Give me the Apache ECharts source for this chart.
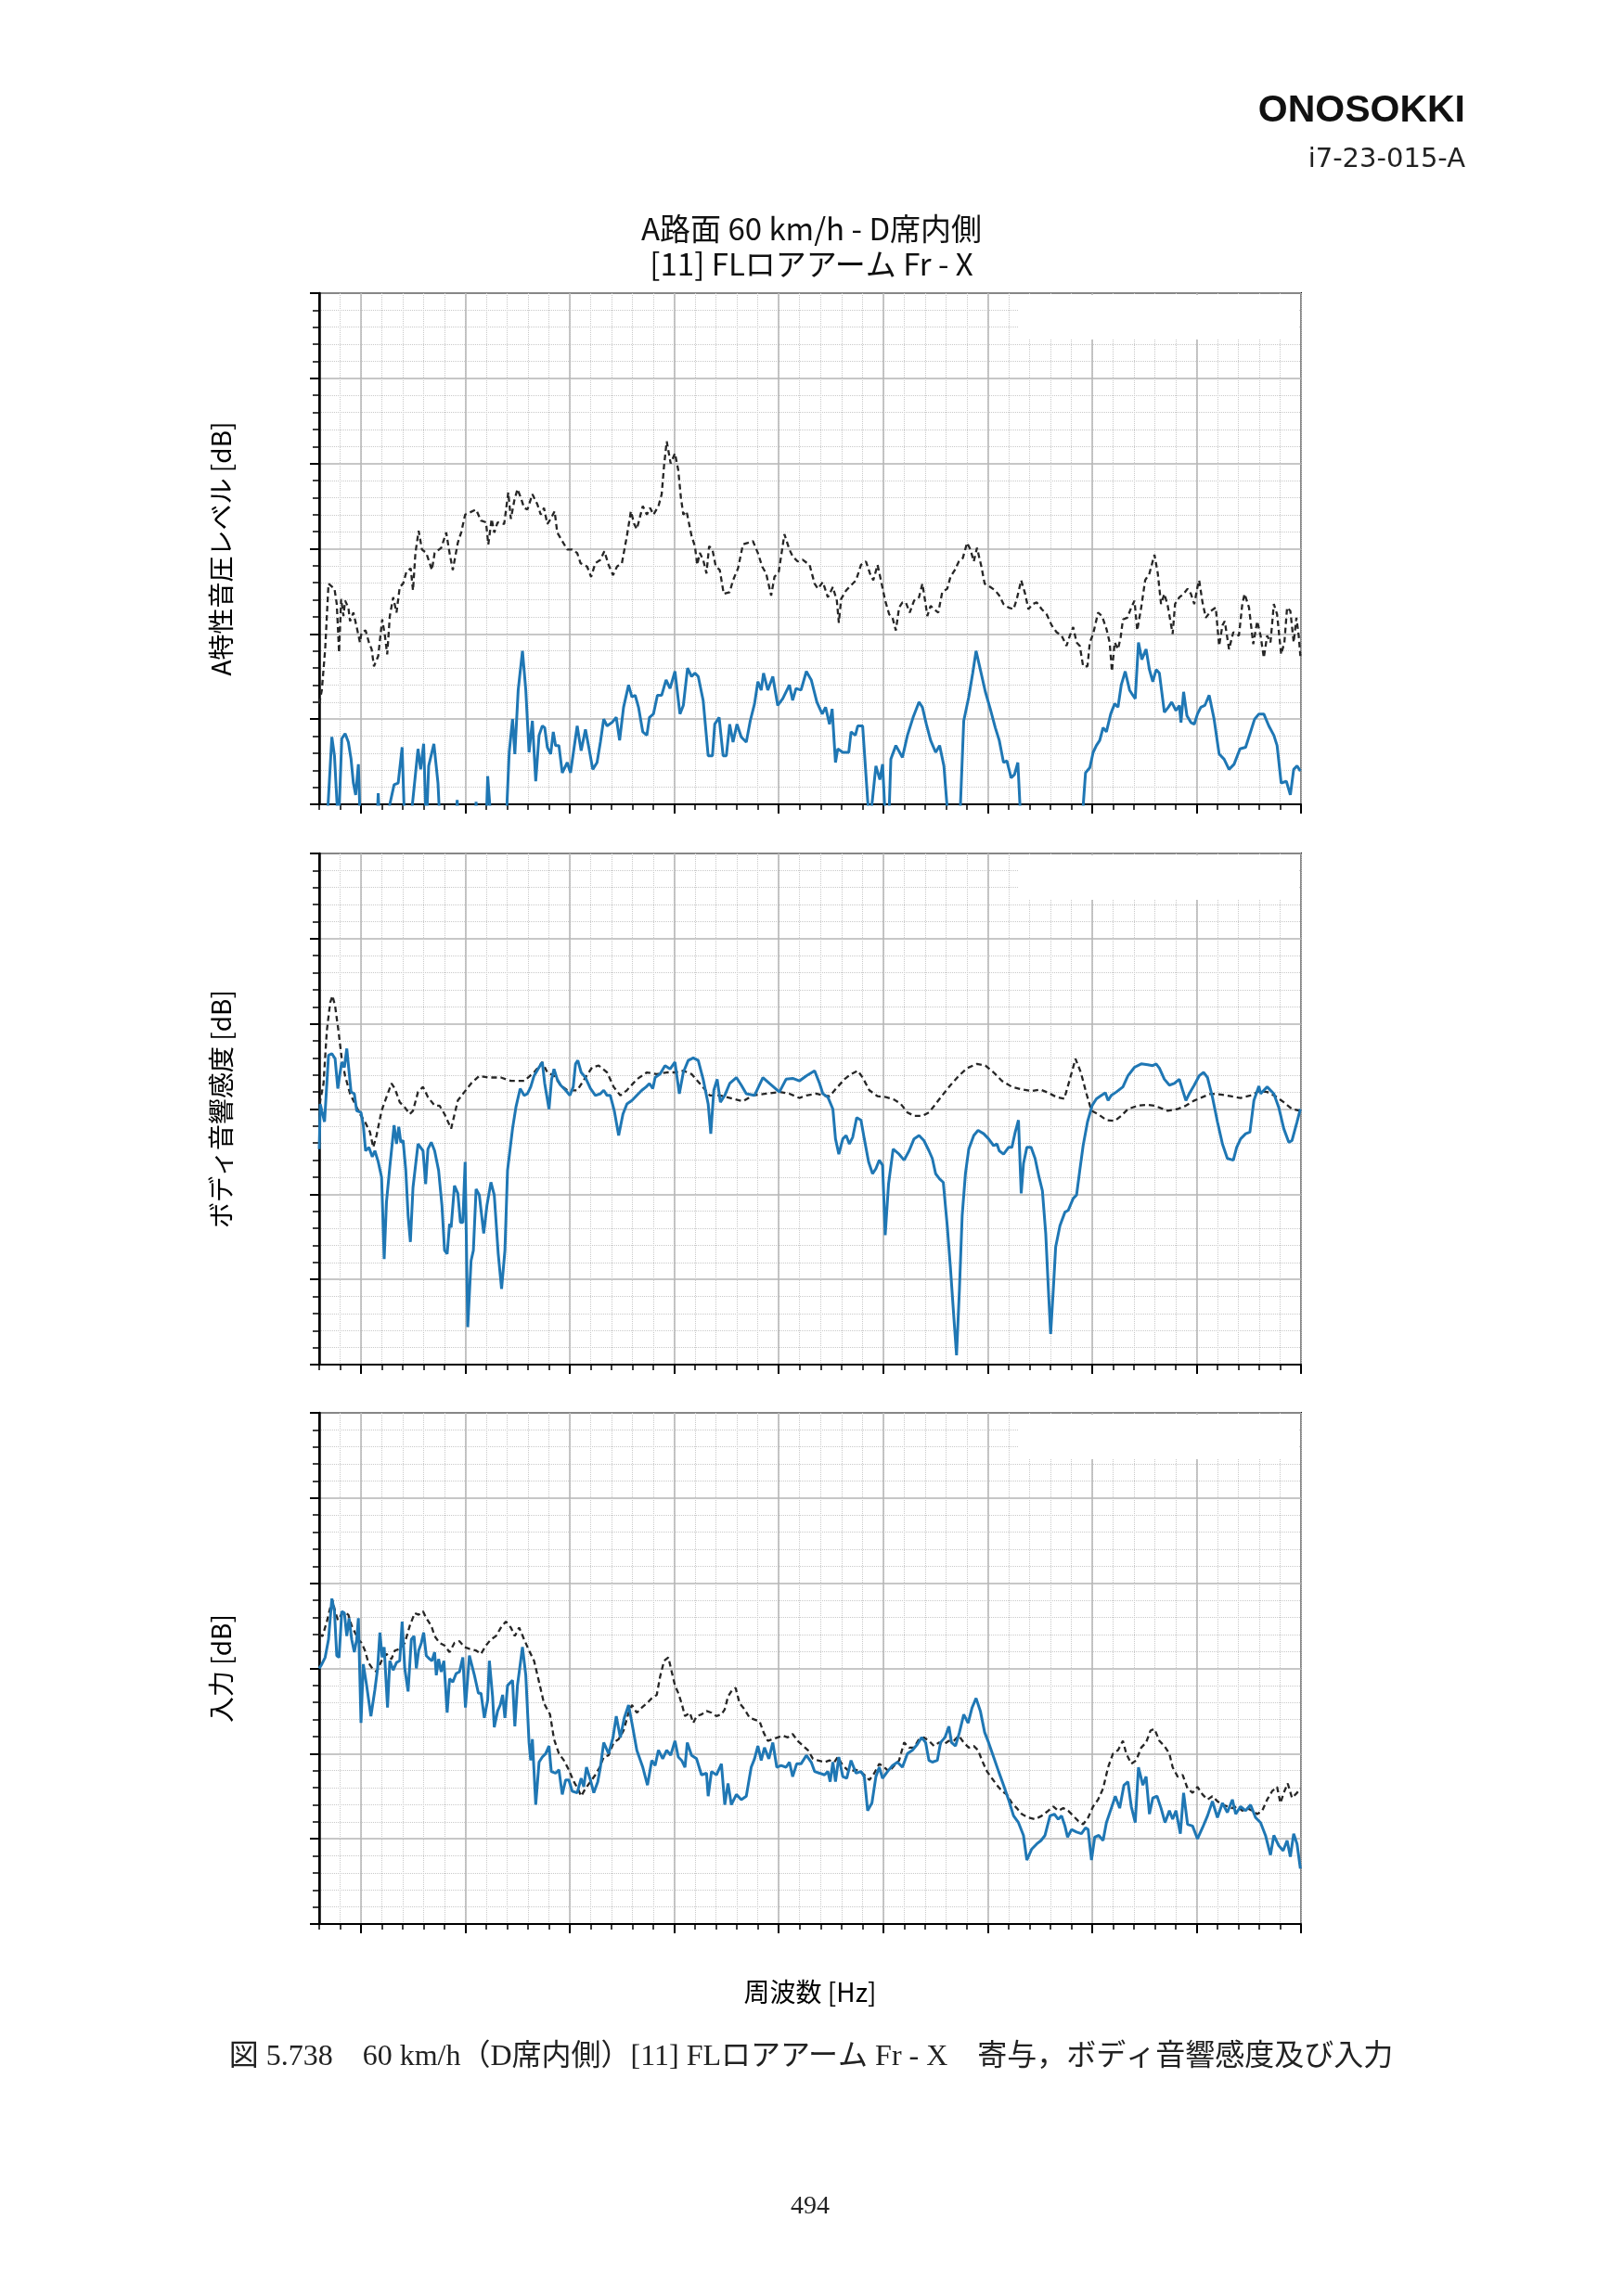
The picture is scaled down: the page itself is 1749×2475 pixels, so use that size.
<!DOCTYPE html>
<html>
<head>
<meta charset="utf-8">
<script src="https://cdn.jsdelivr.net/npm/echarts@6/dist/echarts.min.js"></script>
<style>
html, body { margin: 0; padding: 0; background: #fff; }
#main { width: 1749px; height: 2475px; }
</style>
</head>
<body>
<div id="main"></div>
<script>
// 周波数 [Hz] と dB の組
var contribTotal = [[60,11.8],[62.5,13.4],[65.7,18.2],[68.9,25.9],[70.5,26.1],[74.6,25.3],[76.8,23.5],[79,17.8],[81,24.1],[83.2,22.1],[84.8,23.9],[87.9,23.1],[89.5,21.5],[92.7,22.5],[95.9,20.8],[99,19],[100.6,20.2],[104.4,20.4],[107.6,19],[110.2,18.2],[112.4,16.2],[116.5,17.4],[120.3,21.7],[122.9,19.8],[125.1,17.6],[127.6,22.1],[130.8,24.3],[134,22.5],[137.1,25.5],[140.3,25.9],[143.5,27.3],[147.6,27.7],[149.8,25.1],[152.1,29.5],[155.2,32.1],[158.4,29.9],[162.5,29.5],[167.9,27.5],[170.5,29.5],[176.8,30.1],[181.6,31.9],[184.8,29.5],[187.9,27.5],[192.7,30.7],[195.9,31.9],[199.7,34],[210.2,34.6],[214.9,33.3],[219.7,33.1],[221.9,30.5],[225.1,33.5],[227.6,31.9],[230.8,33.1],[237.1,32.9],[241,36.6],[243.5,33.5],[246.7,35.6],[249.8,37],[253,36],[256.2,34.8],[259.4,34.6],[264.1,36.4],[268.9,35.2],[272.1,34],[275.2,34.8],[278.4,32.9],[281.6,33.5],[285.4,34.4],[287.9,31.9],[292.7,30.9],[297.5,29.9],[302.2,29.9],[307,29.5],[310.2,28.3],[316.5,27.9],[320.3,26.7],[324.4,28.3],[329.2,28.7],[333,29.7],[337.1,28.1],[341.3,26.9],[345.1,27.9],[349.8,28.3],[354.6,31.5],[358.4,34.4],[361.6,32.9],[364.1,32.3],[369.8,35],[373.7,34],[376.8,34.8],[380,34],[384.8,35],[387.9,36.4],[390.2,39.8],[392.7,42.6],[396.5,40],[400.6,41.2],[403.8,39.2],[406.3,36],[408.6,34],[411.7,34.4],[416.5,31.5],[419.7,30.3],[421.9,28.1],[424.4,29.5],[427.6,28.7],[430.8,27.1],[433.3,30.3],[436.5,29.9],[439.7,27.9],[443.5,27.5],[447.3,24.7],[453,24.9],[456.2,26.3],[461,27.7],[465.7,30.5],[470.5,30.7],[475.2,30.9],[480,29.5],[484.1,27.9],[487.9,27.1],[492.7,24.5],[495.9,26.7],[500,27.3],[503.2,29.9],[505.4,31.7],[510.2,29.9],[513.3,29.1],[518.1,28.5],[522.9,28.7],[529.5,28.1],[534.3,25.9],[537.5,25.3],[542.2,26.1],[547,24.3],[551.8,25.5],[555.6,23.9],[557.5,21.3],[559.7,24.1],[564.5,25.1],[569.2,25.7],[574,26.3],[578.7,28.1],[583.5,28.5],[587.3,27.1],[590.5,26.3],[594.6,28.1],[597.8,26.3],[601.9,23.9],[605.7,22.3],[608.9,21.9],[612.1,20.4],[615.2,23.1],[618.4,23.7],[621.6,23.7],[625.4,22.5],[629.5,23.9],[634.3,24.3],[637.5,25.9],[640.6,23.5],[642.2,22.1],[645.4,23.3],[648.6,22.9],[652.7,22.5],[656.5,24.9],[661.3,25.3],[664.4,26.7],[668.6,27.5],[672.4,28.5],[676.2,28.9],[680.3,30.7],[683.5,29.9],[686.7,28.5],[689.8,30.1],[694,27.9],[697.1,25.9],[702.5,25.5],[707.3,25.1],[711.1,24.5],[715.2,23.5],[720,23.1],[724.8,22.9],[727.9,24.1],[732.1,26.3],[735.9,24.7],[739,22.9],[742.9,23.5],[747,23.7],[751.8,22.9],[756.5,22.3],[761.3,21],[766,20.2],[770.8,19.8],[775.5,18.6],[778.7,19.8],[781.9,20.8],[785.1,19],[788.2,18.6],[791.4,16.2],[795.6,16.2],[797.8,19],[801,20],[805.7,22.5],[809.5,22.1],[813.7,20.6],[816.8,19],[819,15.6],[821.6,19],[824.8,18.2],[827.3,19.6],[829.5,21.7],[833.7,21.9],[837.5,23.1],[840.6,23.9],[843.2,20.4],[847,23.1],[850.8,26.3],[854.9,27.1],[859.7,29.3],[862.9,27.1],[866,23.5],[869.2,24.7],[872.4,23.3],[877.1,20],[879.4,23.5],[883.5,24.3],[887.6,24.7],[891.4,25.3],[894.6,24.7],[897.8,23.5],[900.9,25.5],[902.5,26.3],[905.7,23.7],[908.9,21.9],[913.7,22.7],[918.4,23.1],[921.6,18.6],[924.8,21],[927,21.5],[931.1,18.2],[935.2,20.2],[940.6,19.8],[943.8,23.5],[946,24.7],[950.2,23.1],[954.3,18.8],[958.1,21.5],[961.3,19.8],[964.4,17.2],[967.6,19.8],[970.8,19],[974,23.5],[977.1,22.3],[981,17.6],[984.1,19],[986.7,23.1],[989.8,22.7],[993,19],[995.6,21.9],[997.8,19.8],[999.4,17.4]];

var contribPath = [[60,-3],[66.7,-3],[68.5,0],[72.1,7.9],[74.6,5.7],[78.4,-3],[81.6,7.7],[84.8,8.3],[87.9,7.3],[90.5,5.3],[92.7,2.5],[94.9,1.1],[97.5,4.7],[99.5,-3],[114.9,-3],[116.5,1.3],[118.1,-3],[124.4,-3],[127.6,0],[131.7,2.3],[135.6,2.5],[139.4,6.7],[141.9,-3],[146.7,-3],[149.8,0.7],[154.6,6.5],[157.1,4.1],[160,7.1],[162.5,-3],[164.8,4.5],[169.8,7.1],[173.7,2.5],[175.9,-3],[190,-3],[192.1,0.5],[194,-3],[208.6,-3],[210.2,0.3],[211.7,-3],[219.7,-3],[221.3,3.3],[225.1,-3],[238.7,-3],[241.9,6.1],[245.1,10],[247.3,5.9],[250.5,13.4],[254.6,18],[257.8,13.4],[260.9,6.1],[264.1,9.8],[267.3,2.7],[270.5,8.1],[273.6,9.2],[275.9,9],[278.4,6.7],[281.6,5.9],[284.1,8.5],[286.3,6.9],[289.5,6.9],[292.7,3.7],[297.5,4.9],[300.6,3.7],[307,9.2],[310.8,6.3],[314.9,8.8],[318.1,6.7],[321.9,4.1],[326,4.9],[329.2,7.3],[332.4,10],[335.6,9.2],[340.3,9.6],[344.4,10.2],[347.6,7.5],[351.4,11.4],[356.2,14],[359.4,12.6],[362.5,12.8],[365.7,11.4],[369.8,8.5],[373.7,8.1],[376.2,10.2],[380,10.6],[383.8,12.8],[387.9,12.8],[392.1,14.6],[395.9,13.6],[400.6,15.6],[405.4,10.6],[408.6,11.6],[412.7,16],[416.5,15],[419.7,15.4],[422.9,15],[427.6,12.2],[432.4,5.7],[436.5,5.7],[438.7,9.4],[442.9,10.2],[446.7,5.7],[449.8,5.7],[453,9.4],[456.2,7.3],[460,9.4],[464.1,7.9],[468.9,7.3],[472.7,9.8],[476.8,11.8],[480,14.4],[483.2,13.4],[485.4,15.4],[489.5,13.4],[494.3,15],[499,11.6],[503.8,12.4],[510.2,14],[513.3,12.2],[516.5,13.6],[521.3,13.4],[526.4,15.6],[531.1,14.6],[536.5,12],[541.6,10.6],[544.8,11.4],[548.6,9.4],[551.1,11.2],[554.3,4.9],[556.5,6.5],[561.3,6.1],[567,6.1],[569.2,8.5],[573.3,8.1],[575.6,9.2],[580.3,9.2],[585.1,0.5],[587.3,-3],[589.2,0],[593,4.5],[596.8,2.9],[599.4,4.7],[602.5,-3],[605.1,-3],[607.3,5.3],[612.1,6.9],[618.4,5.5],[623.2,8.1],[628.6,10.2],[634.3,12],[637.5,11.4],[641.3,9.4],[645.4,7.5],[650.2,6.1],[654,6.9],[658.1,4.5],[662.9,-3],[673,-3],[677.1,9.8],[681.9,12.6],[685.7,15.4],[688.9,18],[693,15.8],[697.8,13.2],[702.5,11.2],[707.3,9],[711.1,7.5],[715.2,4.9],[718.4,5.1],[722.5,3.1],[725.7,3.5],[728.9,4.9],[732.1,-3],[789.8,-3],[793.7,3.7],[797.8,4.3],[801,6.1],[804.1,6.9],[807.3,7.5],[810.5,9],[813.7,8.5],[817.8,10.6],[821.6,11.8],[824.8,11.4],[827.9,14],[831.7,15.6],[835.9,13.4],[839,12.8],[841.3,12.4],[844.4,19],[847.6,17],[851.7,18.2],[854.9,15.8],[858.1,14.4],[861.3,15.8],[864.4,15.4],[869.2,10.8],[873,11.4],[876.2,12],[880.3,11],[883.5,11.6],[885.1,9.6],[887.6,13.2],[890.8,10.4],[894.6,9.6],[897.8,9.4],[900.9,10.6],[904.1,11.4],[907.9,11.6],[912.1,12.8],[916.8,10],[921.6,5.9],[926.4,5.3],[931.1,4.1],[935.9,4.7],[941.6,6.5],[947,6.7],[951.7,8.5],[955.6,10],[959.7,10.6],[964.4,10.6],[969.2,9.2],[974,8.1],[977.1,6.9],[981,2.5],[986,2.7],[989.8,1.1],[993,4.1],[996.2,4.5],[999.4,3.9]];

var sensAvg = [[60,29.5],[61,31],[64.1,33],[67.3,39.2],[70.5,42.5],[72.7,43.3],[75.2,42.1],[78.4,39.2],[81.6,35.9],[84.8,33.9],[89.5,31.8],[94.3,30.6],[99,29.4],[103.8,28.5],[108.6,27.3],[111.7,25.5],[114.9,26.9],[119.7,29.8],[124.4,31.4],[129.2,33],[132.4,32.4],[137.1,30.8],[141.9,30.2],[146.7,29.4],[149.8,29.8],[154.6,32],[159.4,32.6],[164.1,31.4],[170.5,30.4],[175.2,30.4],[180,29.4],[186.3,27.7],[192.7,31],[199,32],[205.4,33],[213.3,33.9],[221.3,33.7],[234,33.7],[243.5,33.3],[256.2,33.3],[265.7,34.3],[273.6,35.5],[278.4,34.3],[284.8,33.9],[291.1,32.8],[297.5,32.2],[307,32.2],[314.9,33.7],[321.3,34.9],[327.6,35.1],[335.6,34.3],[341.9,32.6],[348.3,31.6],[354.6,32.2],[364.1,33.5],[373.7,34.3],[383.2,34.1],[392.7,34.3],[400.6,34.3],[408.6,34.5],[416.5,34.1],[424.4,33],[434,31.6],[443.5,31.6],[456.2,31.2],[465.7,30.9],[475.2,31.6],[487.9,31.8],[500.6,32],[510.2,31.8],[519.7,31.3],[526.4,31.6],[535.9,31.8],[542.2,31.6],[548.6,31.5],[554.9,32.4],[562.9,33.5],[569.2,34.1],[575.6,34.5],[580.3,33.7],[586.7,32.2],[594.6,31.5],[602.5,31.4],[610.5,31.1],[616.8,30.6],[623.2,29.6],[629.5,29.2],[637.5,29.2],[643.8,29.6],[650.2,30.6],[656.5,31.6],[664.4,32.8],[672.4,33.9],[680.3,34.8],[689.8,35.3],[697.8,35.1],[705.7,34.3],[713.7,33.3],[723.2,32.6],[732.7,32.3],[742.2,32.1],[750.2,32.3],[758.1,31.9],[766,31.4],[773.3,31.2],[778.7,33.5],[784.1,35.9],[789.2,34.3],[794.6,31.8],[799.4,29.8],[805.7,29.4],[813.7,28.7],[821.6,28.6],[827.9,29.2],[834.3,30],[843.8,30.4],[851.7,30.5],[859.7,30.4],[866,30.1],[872.4,29.8],[881.9,30],[889.8,30.4],[897.8,31],[905.7,31.4],[913.7,31.8],[923.2,31.7],[932.7,31.5],[942.2,31.3],[951.7,31.6],[959.7,32.1],[967.6,32],[975.6,31.5],[983.5,30.8],[991.4,30],[999.4,29.8]];

var sensPath = [[60,25.3],[61,30.6],[62.5,29.8],[65.1,28.5],[67.3,33],[68.9,36.3],[72.1,36.5],[75.2,35.9],[77.8,32.4],[80,34.3],[81.6,35.5],[84.1,34.9],[86.4,37.1],[87.9,37.3],[90.5,32],[93.6,31.8],[95.9,29.8],[100,29.6],[102.2,28.1],[104.4,25.1],[107.6,25.5],[110.8,24.4],[113.3,25.1],[116.5,23.8],[119.7,22],[122.2,12.4],[124.4,19.1],[127.6,23.2],[131.7,28.1],[134,25.9],[136.2,27.9],[138.1,26.1],[140.3,26.3],[142.9,22.8],[145.1,17.5],[147.3,14.4],[149.8,20.8],[154.6,25.9],[159.4,25.1],[161.9,21.2],[164.1,25.3],[167.3,26.1],[170.5,25.1],[174.3,22.8],[177.5,18.7],[180,13.4],[182.5,13],[184.8,16.5],[186.3,16.1],[189.5,21],[192.7,20.1],[195.2,16.7],[197.5,16.7],[199.7,23.8],[202.2,4.4],[205.4,12.2],[207.6,13.4],[210.2,20.6],[213.3,19.9],[217.5,15.4],[220.6,18.7],[224.4,21.4],[227.6,19.9],[231.4,13],[234.6,8.9],[237.8,13.4],[240.3,22.8],[245.1,27.7],[248.3,30.2],[252.4,32.4],[256.2,31.6],[259.4,31.8],[262.5,32.6],[265.7,33.9],[270.5,34.9],[273.6,35.5],[275.9,33],[280,30],[282.5,33.5],[284.8,34.7],[287.9,33.5],[291.1,32.8],[295.9,32.2],[300,31.6],[303.2,32.6],[305.4,35.3],[307.6,35.7],[310.8,34.3],[314.9,33.7],[319.7,32.4],[324.4,31.6],[329.2,31.8],[332.4,32.2],[335.6,31.6],[338.7,31.6],[342.5,29.8],[346.7,26.9],[350.8,29.4],[354.6,30.6],[359.4,31],[364.1,31.6],[368.9,32.2],[373,32.6],[376.2,33],[379.4,32.4],[381.6,33.7],[386.3,34.1],[391.1,35.1],[395.9,34.7],[400.6,35.5],[404.8,31.8],[408.6,34.3],[413.3,35.7],[418.1,36],[422.9,35.7],[427.6,33.5],[432.4,30.6],[434.9,27.1],[437.8,32.2],[441,33.5],[444.1,30.8],[448.3,31.6],[453,33],[459.4,33.7],[464.1,32.8],[468.9,31.8],[476.8,31.6],[484.8,33.7],[491.1,33],[500.6,32],[507,33.5],[513.3,33.6],[519.7,33.3],[526.4,33.9],[534.3,34.5],[539.1,33],[542.2,31.8],[547,31.4],[551.8,30],[554.3,26.5],[557.5,24.7],[561.3,26.5],[564.5,26.9],[567.6,25.9],[570.8,26.7],[574.6,29],[578.7,28.7],[581.9,26.5],[586,23.8],[589.8,22.4],[593,23],[596.2,24],[599.4,23.4],[601.9,15.2],[605.1,21.2],[609.5,25.3],[615.2,24.7],[620,24],[624.8,25.1],[629.5,26.5],[634.3,26.9],[639,26.3],[643.8,25.1],[647,24.2],[650.2,22.4],[654,21.8],[657.5,21.4],[661.3,16.3],[664.4,11.3],[667.6,5.6],[670.2,1.1],[673,8.9],[675.6,17.5],[678.7,22.4],[681.9,25.3],[686.7,26.9],[690.8,27.5],[696.2,27.1],[700.9,26.5],[705.7,25.7],[708.9,25.9],[711.1,25.1],[715.2,24.7],[720,25.5],[723.2,25.5],[726.4,27.3],[729.5,28.7],[732.1,20.1],[734.3,23.6],[737.5,25.5],[741.6,25.5],[745.4,24.2],[749.2,22],[752.4,20.4],[755.6,15.4],[758.1,8.9],[760.3,3.6],[762.9,8.9],[765.1,13.8],[769.2,16.3],[774,17.9],[777.1,18.1],[781.9,19.5],[785.1,19.9],[788.2,22.8],[791.4,25.7],[795.6,28.5],[800,30.4],[804.1,31.2],[808.9,31.6],[812.7,31.9],[815.3,31],[818.4,31.6],[823.2,32],[829.5,32.6],[834.3,33.9],[840.6,34.9],[847,35.3],[853.3,35.2],[858.1,35.1],[861.3,35.3],[864.4,34.8],[869.2,33.5],[874,32.8],[878.7,33],[883.5,33.5],[886.7,32.2],[889.8,31],[893,31.8],[897.8,32.8],[902.5,33.9],[906.7,34.3],[910.5,33.7],[915.2,31.4],[920,28.5],[924.8,25.9],[929.5,24.2],[935.2,24],[938.4,25.5],[942.2,26.5],[947,27.1],[951.1,27.3],[954.9,31],[959.7,32.7],[961.3,31.8],[967.6,32.6],[974,31.8],[978.7,30.2],[983.5,27.7],[988.3,26.1],[991.4,26.3],[996.2,28.5],[999.4,30]];

var inputAvg = [[60,34],[63.2,33.8],[67.3,35.5],[70.5,37.1],[72.7,38],[75.2,36.7],[77.8,35.7],[81,36.3],[84.1,36.6],[87.9,36.3],[91.1,35],[94.3,34.2],[97.5,33.4],[100.6,33],[103.8,32.1],[107,30.7],[110.8,30],[114.9,29.6],[119.7,30.9],[124.4,31.7],[129.2,31.1],[132.4,32.1],[137.1,32.3],[141.9,33],[146.7,35],[151.4,36.5],[155.2,36.3],[159.4,36.7],[162.5,35.9],[167.3,35],[170.5,33.8],[175.2,33],[180,32.7],[184.8,31.9],[189.5,33],[194.3,33.2],[199,32.5],[203.8,32.3],[210.2,32.1],[214.9,31.7],[219.7,32.7],[224.4,33.4],[229.2,33.8],[234,34.8],[238.7,35.5],[243.5,34.8],[247.3,33.8],[251.4,34.8],[256.2,33.4],[260.9,32.1],[265.7,30.9],[270.5,28.4],[275.2,25.9],[281,24.6],[284.8,21.7],[289.5,20],[294.3,19.2],[299,18.1],[303.8,16.7],[307.6,15.9],[310.8,15],[314.9,15.9],[319.7,16.7],[324.4,17.5],[328.6,18.4],[332.4,19.6],[337.1,19.8],[341.9,21.3],[346.7,21.7],[351.4,22.7],[356.2,24.8],[359.4,25.7],[364.1,24.8],[368.9,25.4],[373.7,25.9],[378.4,26.5],[383.2,26.9],[386.3,29],[390.2,30.9],[394.3,31.3],[397.5,29.6],[400.6,28],[403.8,27.1],[407,25.9],[410.2,24.4],[414.9,24.8],[418.1,23.6],[421.3,24.4],[426,24.6],[430.8,25],[435.6,24.8],[440.3,24.4],[445.1,24.6],[448.3,25.2],[451.4,26.7],[455.6,27.5],[458.7,27.7],[462.5,25.9],[467.3,25.2],[472.1,24.2],[476.8,24],[481.6,23.8],[485.4,22.5],[489.5,21.5],[494.3,21.7],[499,21.9],[503.8,22.1],[508.6,21.9],[513.3,22.3],[518.1,21.5],[527.9,20.4],[532.7,19.4],[537.5,19.2],[543.8,19],[548.6,19.2],[553.3,19],[556.5,19.6],[561.3,18.6],[567.6,17.9],[574,18.1],[580.3,17.7],[586.7,16.9],[591.4,17.7],[596.2,18.8],[601,18.4],[605.7,17.9],[610.5,18.6],[615.2,19.2],[620,21.3],[624.8,20.7],[629.5,20.7],[634.3,21.7],[639,21.9],[643.8,21.5],[648.6,20.9],[653.3,21.3],[658.1,21.1],[662.9,21.5],[667.6,21.5],[672.4,22.1],[677.1,21.3],[681.9,20.7],[686.7,20.9],[690.8,20.4],[694.6,19.2],[699.4,17.9],[704.1,17.1],[708.9,16.3],[713.7,15.6],[718.4,15.2],[723.2,14.2],[727.9,13.6],[732.7,12.9],[739,12.5],[745.4,12.3],[751.8,12.7],[758.1,13.3],[762.9,13.8],[767.6,13.3],[772.4,13.6],[777.1,13.3],[781.9,12.7],[786.7,12.1],[791.4,11.7],[796.2,12.5],[801,13.8],[805.7,14.6],[810.5,15.9],[815.3,18.4],[820,20],[824.8,20.4],[829.5,21.5],[832.7,20],[837.5,18.8],[842.2,19.2],[847,20.7],[851.7,21.3],[855.9,22.7],[859.7,22.9],[864.4,21.5],[869.2,20.9],[874,20],[877.1,18.4],[881.9,17.3],[886.7,17.5],[891.4,15.9],[896.2,15.4],[900.9,16.1],[905.7,15.2],[910.5,14.6],[915.2,15],[920,14.4],[924.8,14],[929.5,13.8],[934.3,13.6],[939,13.8],[943.8,13.3],[948.6,13.6],[953.3,13.3],[958.1,12.9],[962.9,13.3],[967.6,14.6],[972.4,15.6],[977.1,16.1],[980.3,14.2],[983.5,15.4],[987.3,16.5],[991.4,14.8],[996.2,15.4],[999.4,15.9]];

var inputPath = [[60,30],[62.5,30.5],[65.7,31.3],[68.9,33.4],[72.1,38.2],[74.6,36.7],[76.8,31.5],[79,31.3],[81.6,36.7],[84.1,36.5],[86.4,33.8],[88.6,35.9],[91.1,33.4],[93.6,31.9],[95.9,33.4],[97.5,35.9],[100,23.6],[102.2,30.5],[105.4,28],[109.5,24.4],[113.3,27.5],[115.9,30],[118.1,34.2],[120.3,31.3],[122.2,32.5],[125.4,25.4],[127.6,30.9],[130.8,29.8],[134,30.7],[137.1,30.9],[139.4,35.5],[141.9,30],[145.1,27.3],[148.2,33.4],[150.8,33.8],[153,30],[155.2,32.1],[157.8,33],[160,34.2],[162.5,31.5],[165.7,31.1],[167.9,30.9],[170.5,31.9],[172.1,29.2],[174.3,31.1],[176.8,29.6],[179.4,30.9],[182.5,24.8],[184.8,28.8],[187.9,28.4],[191.1,29.4],[194.3,29.6],[197.5,31.3],[200,25.4],[203.8,31.5],[208.6,29.2],[212.4,27.1],[214.9,27.1],[218.1,24.2],[221.3,26.3],[222.9,30.9],[226,26.7],[227.6,23.1],[230.8,25],[233.3,25.7],[235.6,26.9],[237.8,24.2],[240.3,28],[245.1,28.6],[247.3,23.2],[249.8,28],[254.6,32.5],[257.8,29.2],[260.9,21.3],[262.5,19.2],[264.1,21.7],[267.3,14],[270.5,19],[273.6,19.6],[276.8,20],[280,20.9],[282.2,17.9],[286.3,17.7],[289.5,18.1],[292.7,15.2],[295.9,16.9],[299,16.9],[302.2,15.6],[307,15.4],[310.8,17.1],[313.3,16.1],[315.9,18.4],[319.7,16.9],[322.9,15.4],[326.7,16.7],[329.2,18.4],[332.4,21.3],[337.1,20],[341.3,21.9],[344.4,24.4],[348.3,21.9],[352.1,24.2],[356.2,25.7],[359.4,23.6],[364.1,20.4],[369.8,18.4],[374.3,16.3],[378.4,19.2],[381.6,18.6],[384.8,20.4],[388.9,19.4],[392.7,20.4],[396.5,19.8],[400.6,21.5],[403.8,19.6],[407,19.2],[410.2,18.4],[412.4,21.3],[416.5,19.8],[421.3,19.4],[426,17.5],[430.8,17.7],[432.4,15],[435.6,17.9],[440.3,17.5],[445.1,18.8],[448.3,14],[451.4,16.5],[454.6,14],[459.4,15.2],[464.1,14.6],[468.9,15],[473.6,18.4],[476.8,19.4],[480,20.9],[483.2,19.2],[486.3,20.7],[490.5,19.4],[494.3,21.3],[498.1,18.4],[502.2,18.6],[507,18.4],[510.2,19],[513.3,17.3],[517.1,18.8],[521.3,18.8],[526.4,19.8],[531.1,19],[534.3,17.9],[539.1,17.7],[543.8,17.5],[547,17.9],[549.2,16.7],[551.8,19],[554.3,16.7],[557.5,19.6],[561.3,17.3],[565.1,17.1],[569.2,19.2],[574,17.7],[578.7,17.9],[581.9,17.3],[585.1,13.3],[589.2,14.2],[593,17.3],[596.2,18.4],[599.4,17.1],[604.1,17.9],[608.9,18.6],[613.7,19],[618.4,18.4],[623.2,20],[627.9,20.4],[632.7,21.1],[636.8,21.9],[640.6,21.3],[643.8,19.2],[647,19],[651.8,19.2],[654.9,21.3],[659.1,21.9],[662.9,23.2],[665.4,21.3],[669.2,20.9],[673,22.5],[677.1,24.6],[681.3,23.6],[685.1,25.4],[688.9,26.5],[693,25],[697.1,22.5],[700.9,21.3],[705.7,19.6],[710.5,17.9],[715.2,16.3],[720,14.6],[724.8,12.7],[729.5,11.9],[734.3,10.4],[737.5,7.5],[742.2,8.8],[747,9.4],[751.1,9.8],[754.9,10.4],[759.7,12.7],[763.8,12.9],[767.6,12.3],[770.8,12.7],[774,11.5],[776.5,10.2],[780.3,11.1],[785.1,10.8],[789.8,10.6],[793.7,11.3],[796.2,11.1],[799.4,7.5],[802.5,10.2],[806.4,10.4],[810.5,9.8],[813.7,11.9],[818.4,13.6],[822.2,15],[826.4,13.6],[830.5,16.3],[834.3,16.7],[837.5,13.8],[841.3,11.9],[844.4,18.4],[848.6,16.3],[851.7,17.3],[854.9,12.9],[858.1,14.8],[862.2,15],[866,13.6],[869.8,11.9],[874,13.3],[877.1,12.3],[880.3,13.3],[884.5,10.6],[887.6,15.4],[891.4,11.7],[896.2,11.5],[900.9,10],[905.7,11.3],[910.5,12.7],[915.2,14.4],[920,12.5],[924.8,14.2],[929.5,13.1],[934.3,14.6],[937.5,12.9],[942.2,13.8],[947,13.3],[951.7,14],[956.5,12.5],[961.3,11.9],[966,10.4],[970.8,8.1],[974,10.4],[978.7,9.2],[982.9,8.6],[986.7,9.8],[989.8,7.9],[993,10.6],[996.2,9.4],[999.4,6.5]];

// 軸の設定
var freqMin = 60, freqMax = 1000;
var freqMajor = [100, 200, 300, 400, 500, 600, 700, 800, 900, 1000];
var yNames = ['A特性音圧レベル [dB]', 'ボディ音響感度 [dB]', '入力 [dB]'];
var gridTops = [316, 920, 1523];
var pairs = [[contribTotal, contribPath], [sensAvg, sensPath], [inputAvg, inputPath]];

var jpFont = '"Noto Sans CJK JP", sans-serif';
var grids = [], xAxes = [], yAxes = [], series = [], graphics = [];

gridTops.forEach(function (top, g) {
    grids.push({
        left: 344, top: top, width: 1058, height: 551,
        show: true, borderColor: '#000', borderWidth: 2
    });
    // 細かい目盛り (20 Hz)
    xAxes.push({
        type: 'value', gridIndex: g, position: 'bottom',
        min: freqMin, max: freqMax, interval: 20,
        axisLine: { show: true, lineStyle: { color: '#000', width: 2 } },
        axisTick: { show: true, length: 6, lineStyle: { color: '#000', width: 1.5 } },
        axisLabel: { show: false },
        splitLine: { show: true, lineStyle: { color: '#c9c9c9', width: 1, type: 'dotted' } },
        name: g === 2 ? '周波数 [Hz]' : '',
        nameLocation: 'middle', nameGap: 59,
        nameTextStyle: { fontSize: 28, fontFamily: jpFont, color: '#000' }
    });
    // 主目盛り (100 Hz)
    xAxes.push({
        type: 'value', gridIndex: g, position: 'bottom',
        min: freqMin, max: freqMax,
        axisLine: { show: false },
        axisTick: { show: true, length: 10, customValues: freqMajor, lineStyle: { color: '#000', width: 2 } },
        axisLabel: { show: false },
        splitLine: { show: true, lineStyle: { color: '#b4b4b4', width: 1.5 } }
    });
    yAxes.push({
        type: 'value', gridIndex: g,
        min: 0, max: 60, interval: 10,
        axisLine: { show: true, lineStyle: { color: '#000', width: 2.5 } },
        axisTick: { show: true, length: 10, lineStyle: { color: '#000', width: 2 } },
        minorTick: { show: true, splitNumber: 5, length: 7, lineStyle: { color: '#000', width: 1.5 } },
        axisLabel: { show: false },
        splitLine: { show: true, lineStyle: { color: '#b4b4b4', width: 1.5 } },
        minorSplitLine: { show: true, lineStyle: { color: '#c9c9c9', width: 1, type: 'dotted' } },
        name: yNames[g], nameLocation: 'middle', nameGap: 92, nameRotate: 90,
        nameTextStyle: { fontSize: 28, fontFamily: jpFont, color: '#000' }
    });
    series.push({
        type: 'line', xAxisIndex: 2 * g, yAxisIndex: g,
        data: pairs[g][0], showSymbol: false, clip: true, silent: true,
        lineStyle: { color: '#262626', width: 2.3, type: [6, 4] }
    });
    series.push({
        type: 'line', xAxisIndex: 2 * g, yAxisIndex: g,
        data: pairs[g][1], showSymbol: false, clip: true, silent: true,
        lineStyle: { color: '#1f77b4', width: 3 }
    });
    // 凡例の消された部分
    graphics.push({
        type: 'rect', z: 100,
        shape: { x: 1098, y: top + 2, width: 302, height: 48 },
        style: { fill: '#fff' }
    });
});

graphics.push(
    { type: 'text', x: 1579, y: 120, z: 100,
      style: { text: 'ONOSOKKI', font: 'bold 41px "Liberation Sans", sans-serif', fill: '#111', align: 'right', verticalAlign: 'middle' } },
    { type: 'text', x: 1579, y: 172, z: 100,
      style: { text: 'i7-23-015-A', font: '29px "DejaVu Sans", sans-serif', fill: '#222', align: 'right', verticalAlign: 'middle' } },
    { type: 'text', x: 874, y: 2218, z: 100,
      style: { text: '図 5.738　60 km/h（D席内側）[11] FLロアアーム Fr - X　寄与，ボディ音響感度及び入力',
               font: '32px "Liberation Serif", "DejaVu Serif", "Noto Sans CJK JP", serif', fill: '#222', align: 'center', verticalAlign: 'middle' } },
    { type: 'text', x: 873, y: 2379, z: 100,
      style: { text: '494', font: '28px "Liberation Serif", serif', fill: '#222', align: 'center', verticalAlign: 'middle' } }
);

var chart = echarts.init(document.getElementById('main'));
chart.setOption({
    animation: false,
    backgroundColor: '#fff',
    title: {
        text: 'A路面 60 km/h - D席内側\n[11] FLロアアーム Fr - X',
        left: 'center', top: 222,
        textStyle: { fontSize: 33, lineHeight: 38, fontWeight: 'normal', fontFamily: jpFont, color: '#111' }
    },
    grid: grids,
    xAxis: xAxes,
    yAxis: yAxes,
    series: series,
    graphic: graphics
});
</script>
</body>
</html>
